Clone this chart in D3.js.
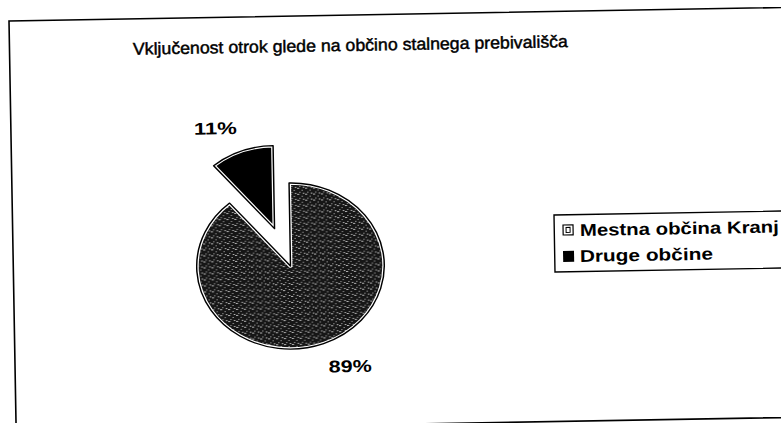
<!DOCTYPE html>
<html>
<head>
<meta charset="utf-8">
<script src="https://cdn.jsdelivr.net/npm/d3@7"></script>
<style>
  html, body { margin: 0; padding: 0; background: #fff; }
  svg { display: block; }
</style>
</head>
<body>
<svg id="chart" width="781" height="423"></svg>
<script>
const title = 'Vključenost otrok glede na občino stalnega prebivališča';
const categories = ['Mestna občina Kranj', 'Druge občine'];
const values = [89, 11];
const labels = ['89%', '11%'];
const exploded = [false, true];

const WIDTH = 781;
const HEIGHT = 423;
const TILT = -1;            // the scanned page sits about a degree off
const PIVOT = [390, 215];
const CENTER = [290.5, 266];
const RADIUS = 83;
const STRETCH = 1.13;       // the scan is wider than it is tall
const EXPLODE = 40;
const LABELRADIUS = 100;
const FONT = 'Arial, "Liberation Sans", Helvetica, sans-serif';

// Screen position -> position inside the tilted group.
function toLocal([x, y]) {
  const a = -TILT * Math.PI / 180;
  const dx = x - PIVOT[0], dy = y - PIVOT[1];
  return [
    PIVOT[0] + dx * Math.cos(a) - dy * Math.sin(a),
    PIVOT[1] + dx * Math.sin(a) + dy * Math.cos(a)
  ];
}

const svg = d3.select('#chart');

// Speckled fill that mimics the scanned hatch.
const defs = svg.append('defs');
const pat = defs.append('pattern')
  .attr('id', 'speckle')
  .attr('patternUnits', 'userSpaceOnUse')
  .attr('width', 7)
  .attr('height', 6);
pat.append('rect').attr('width', 7).attr('height', 6).attr('fill', '#161616');
[[0, 0, 2, 0.8], [4, 2, 1, 0.8], [2, 4, 1, 0.8], [5, 5, 1.5, 0.8]].forEach(([x, y, w, h]) =>
  pat.append('rect').attr('x', x).attr('y', y).attr('width', w).attr('height', h).attr('fill', '#d8d8d8')
);

const fills = ['url(#speckle)', '#000'];

const root = svg.append('g')
  .attr('transform', `rotate(${TILT}, ${PIVOT[0]}, ${PIVOT[1]})`);

// Chart frame (only its top and left edges fall inside the picture).
const corner = toLocal([9, 21]);
root.append('rect')
  .attr('x', corner[0])
  .attr('y', corner[1])
  .attr('width', 1000)
  .attr('height', 410)
  .attr('fill', 'none')
  .attr('stroke', '#000')
  .attr('stroke-width', 1.6);

// Title
const titlePos = toLocal([350.5, 51]);
root.append('text')
  .attr('x', titlePos[0])
  .attr('y', titlePos[1])
  .attr('text-anchor', 'middle')
  .attr('font-family', FONT)
  .attr('font-size', 17)
  .attr('stroke', '#000')
  .attr('stroke-width', 0.45)
  .attr('textLength', 435)
  .attr('lengthAdjust', 'spacingAndGlyphs')
  .text(title);

// Pie
const pie = d3.pie().sort(null).value(d => d)(values);
const arc = d3.arc().innerRadius(0).outerRadius(RADIUS);
const center = toLocal(CENTER);

const pieGroup = root.append('g')
  .attr('transform', `translate(${center[0]}, ${center[1]}) scale(${STRETCH}, 1)`);

const slices = pieGroup.selectAll('g.slice')
  .data(pie)
  .join('g')
  .attr('class', 'slice')
  .attr('transform', (d, i) => {
    if (!exploded[i]) return null;
    const mid = (d.startAngle + d.endAngle) / 2;
    return `translate(${Math.sin(mid) * EXPLODE}, ${-Math.cos(mid) * EXPLODE})`;
  });

slices.append('path')
  .attr('d', arc)
  .attr('fill', (d, i) => fills[i])
  .attr('stroke', '#fff')
  .attr('stroke-width', 3.5)
  .attr('stroke-linejoin', 'round');
slices.append('path')
  .attr('d', arc)
  .attr('fill', 'none')
  .attr('stroke', '#000')
  .attr('stroke-width', 1.3)
  .attr('stroke-linejoin', 'round');

// Data labels, pushed outward along each slice's middle angle.
pie.forEach((d, i) => {
  const mid = (d.startAngle + d.endAngle) / 2;
  const r = LABELRADIUS + (exploded[i] ? EXPLODE : 0);
  const sx = Math.sin(mid), cy = -Math.cos(mid);
  const ax = CENTER[0] + sx * r * STRETCH;
  const ay = CENTER[1] + cy * r;
  const w = 43, h = 12;
  const cxText = ax + Math.sign(sx) * w / 2;
  const cyText = ay + Math.sign(cy) * h / 2;
  const pos = toLocal([cxText, cyText + 6]);
  root.append('text')
    .attr('x', pos[0])
    .attr('y', pos[1])
    .attr('text-anchor', 'middle')
    .attr('font-family', FONT)
    .attr('font-size', 17)
    .attr('font-weight', 'bold')
    .attr('textLength', w)
    .attr('lengthAdjust', 'spacingAndGlyphs')
    .text(labels[i]);
});

// Legend
const boxPos = toLocal([554, 215]);
root.append('rect')
  .attr('x', boxPos[0])
  .attr('y', boxPos[1])
  .attr('width', 300)
  .attr('height', 57)
  .attr('fill', '#fff')
  .attr('stroke', '#000')
  .attr('stroke-width', 1.4);

const legendRows = [236, 262];
const legendWidths = [199, 133];
categories.forEach((name, i) => {
  const sw = toLocal([563, legendRows[i] - 11]);
  if (i === 0) {
    root.append('rect')
      .attr('x', sw[0]).attr('y', sw[1])
      .attr('width', 10).attr('height', 10)
      .attr('fill', '#fff').attr('stroke', '#000').attr('stroke-width', 1.2);
    root.append('rect')
      .attr('x', sw[0] + 3).attr('y', sw[1] + 2.5)
      .attr('width', 4).attr('height', 5)
      .attr('fill', 'none').attr('stroke', '#000').attr('stroke-width', 1);
  } else {
    root.append('rect')
      .attr('x', sw[0]).attr('y', sw[1])
      .attr('width', 11).attr('height', 11)
      .attr('fill', fills[i]);
  }
  const tp = toLocal([580, legendRows[i]]);
  root.append('text')
    .attr('x', tp[0])
    .attr('y', tp[1])
    .attr('font-family', FONT)
    .attr('font-size', 17)
    .attr('font-weight', 'bold')
    .attr('textLength', legendWidths[i])
    .attr('lengthAdjust', 'spacingAndGlyphs')
    .text(name);
});
</script>
</body>
</html>
